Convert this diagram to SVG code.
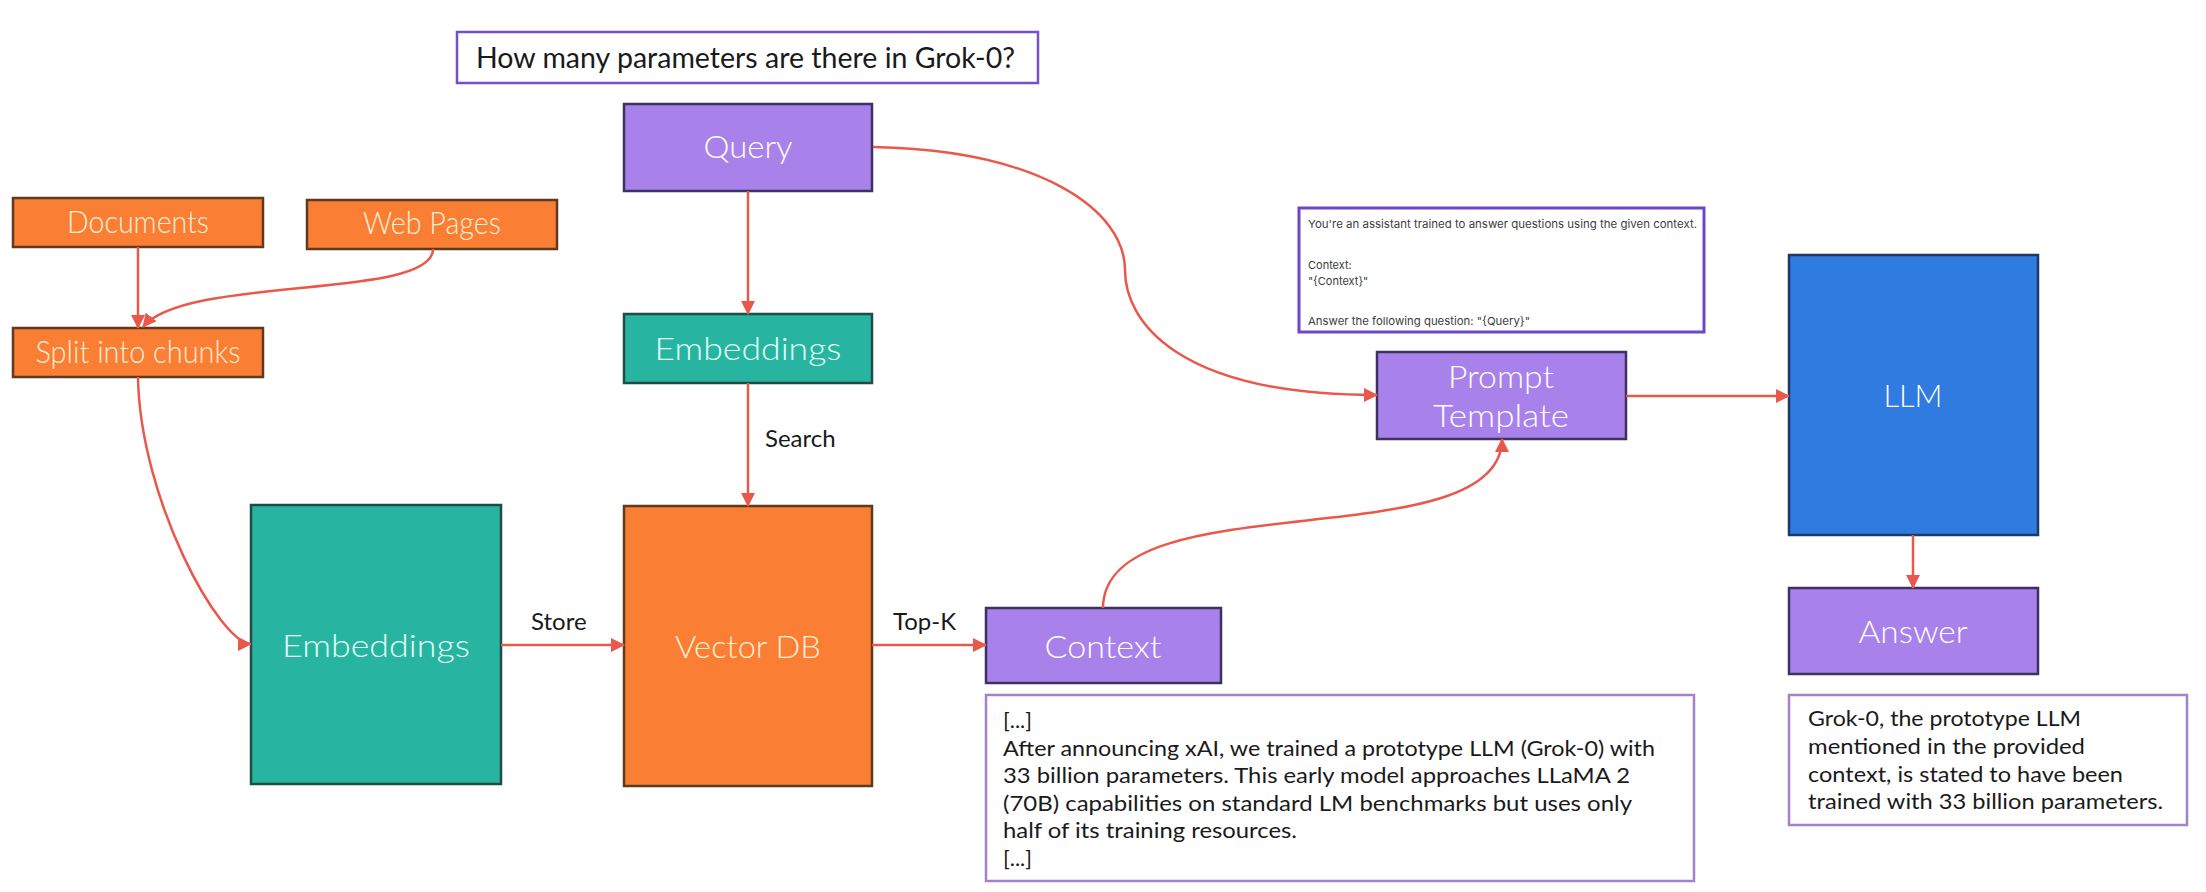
<svg xmlns="http://www.w3.org/2000/svg" width="2206" height="892" viewBox="0 0 2206 892">
<style>
.orange{fill:#FA7E34;stroke:#5E3A1E;stroke-width:2.5}
.teal{fill:#27B5A2;stroke:#1F4D46;stroke-width:2.5}
.purple{fill:#A981EA;stroke:#3D3160;stroke-width:2.5}
.blue{fill:#2F7BE0;stroke:#1D3A66;stroke-width:2.5}
.lbl{font-family:Lato,"Liberation Sans",sans-serif;font-size:31px;font-weight:300;text-anchor:middle}
.lo{fill:#FFEFD6}
.lt{fill:#E4FFF7}
.lp{fill:#FFFFFF}
.edge{fill:none;stroke:#E9594B;stroke-width:2.5}
.txtbox{fill:#FFFFFF;stroke:#A283C9;stroke-width:2.5}
.qbox{fill:#FFFFFF;stroke:#7650CC;stroke-width:2.5}
.body{font-family:Lato,"Liberation Sans",sans-serif;font-size:22px;fill:#1A1A1A}
.elbl{font-family:Lato,"Liberation Sans",sans-serif;font-size:24px;fill:#1A1A1A}
.ptxt{font-family:Inter,"Liberation Sans",sans-serif;font-size:11px;fill:#3C3C3C}
</style>
<defs>
<marker id="arr" markerUnits="userSpaceOnUse" markerWidth="14" markerHeight="14" viewBox="0 0 14 14" refX="13" refY="7" orient="auto">
<path d="M0,0 L14,7 L0,14 z" fill="#E9594B"/>
</marker>
</defs>
<rect width="2206" height="892" fill="#FFFFFF"/>

<g id="question">
<rect class="qbox" x="457" y="32" width="581" height="51"/>
<text x="476" y="68" font-family="Lato,'Liberation Sans',sans-serif" font-size="28" fill="#1A1A1A" textLength="539" lengthAdjust="spacingAndGlyphs">How many parameters are there in Grok-0?</text>
</g>

<g id="documents">
<rect class="orange" x="13" y="198" width="250" height="49"/>
<text class="lbl lo" x="138" y="233" font-size="27" textLength="142" lengthAdjust="spacingAndGlyphs">Documents</text>
</g>
<g id="webpages">
<rect class="orange" x="307" y="200" width="250" height="49"/>
<text class="lbl lo" x="432" y="234" font-size="27" textLength="138" lengthAdjust="spacingAndGlyphs">Web Pages</text>
</g>
<g id="split">
<rect class="orange" x="13" y="328" width="250" height="49"/>
<text class="lbl lo" x="138" y="363" font-size="27" textLength="205" lengthAdjust="spacingAndGlyphs">Split into chunks</text>
</g>

<g id="query">
<rect class="purple" x="624" y="104" width="248" height="87"/>
<text class="lbl lp" x="748" y="158" textLength="89" lengthAdjust="spacingAndGlyphs">Query</text>
</g>
<g id="embeddings-query">
<rect class="teal" x="624" y="314" width="248" height="69"/>
<text class="lbl lt" x="748" y="360" textLength="187" lengthAdjust="spacingAndGlyphs">Embeddings</text>
</g>
<g id="embeddings-docs">
<rect class="teal" x="251" y="505" width="250" height="279"/>
<text class="lbl lt" x="376" y="657" textLength="188" lengthAdjust="spacingAndGlyphs">Embeddings</text>
</g>
<g id="vectordb">
<rect class="orange" x="624" y="506" width="248" height="280"/>
<text class="lbl lo" x="748" y="658" textLength="146" lengthAdjust="spacingAndGlyphs">Vector DB</text>
</g>
<g id="context">
<rect class="purple" x="986" y="608" width="235" height="75"/>
<text class="lbl lp" x="1103" y="658" textLength="117" lengthAdjust="spacingAndGlyphs">Context</text>
</g>
<g id="context-text">
<rect class="txtbox" x="986" y="695" width="708" height="186"/>
<text class="body" x="1003" y="728">[...]</text>
<text class="body" x="1003" y="756" textLength="652" lengthAdjust="spacingAndGlyphs">After announcing xAI, we trained a prototype LLM (Grok-0) with</text>
<text class="body" x="1003" y="783" textLength="627" lengthAdjust="spacingAndGlyphs">33 billion parameters. This early model approaches LLaMA 2</text>
<text class="body" x="1003" y="811" textLength="629" lengthAdjust="spacingAndGlyphs">(70B) capabilities on standard LM benchmarks but uses only</text>
<text class="body" x="1003" y="838" textLength="294" lengthAdjust="spacingAndGlyphs">half of its training resources.</text>
<text class="body" x="1003" y="866">[...]</text>
</g>
<g id="prompt-text">
<rect fill="#FFFFFF" stroke="#6D47C6" stroke-width="3" x="1299" y="208" width="405" height="124"/>
<text class="ptxt" x="1308" y="228" textLength="389" lengthAdjust="spacingAndGlyphs">You're an assistant trained to answer questions using the given context.</text>
<text class="ptxt" x="1308" y="269">Context:</text>
<text class="ptxt" x="1308" y="285">"{Context}"</text>
<text class="ptxt" x="1308" y="325" textLength="222" lengthAdjust="spacingAndGlyphs">Answer the following question: "{Query}"</text>
</g>
<g id="prompt-template">
<rect class="purple" x="1377" y="352" width="249" height="87"/>
<text class="lbl lp" x="1501" y="388" textLength="106" lengthAdjust="spacingAndGlyphs">Prompt</text>
<text class="lbl lp" x="1501" y="427" textLength="136" lengthAdjust="spacingAndGlyphs">Template</text>
</g>
<g id="llm">
<rect class="blue" x="1789" y="255" width="249" height="280"/>
<text class="lbl lp" x="1913" y="407" textLength="59" lengthAdjust="spacingAndGlyphs">LLM</text>
</g>
<g id="answer">
<rect class="purple" x="1789" y="588" width="249" height="86"/>
<text class="lbl lp" x="1913" y="643" textLength="109" lengthAdjust="spacingAndGlyphs">Answer</text>
</g>
<g id="answer-text">
<rect class="txtbox" x="1789" y="695" width="398" height="130"/>
<text class="body" x="1808" y="726" font-size="21" textLength="273" lengthAdjust="spacingAndGlyphs">Grok-0, the prototype LLM</text>
<text class="body" x="1808" y="754" font-size="21" textLength="277" lengthAdjust="spacingAndGlyphs">mentioned in the provided</text>
<text class="body" x="1808" y="782" font-size="21" textLength="315" lengthAdjust="spacingAndGlyphs">context, is stated to have been</text>
<text class="body" x="1808" y="809" font-size="21" textLength="355" lengthAdjust="spacingAndGlyphs">trained with 33 billion parameters.</text>
</g>

<g id="connectors">
<path class="edge" stroke-width="2" d="M138,247 L138,328" marker-end="url(#arr)"/>
<path class="edge" d="M433,249 C433,300 185,275 143,327" marker-end="url(#arr)"/>
<path class="edge" d="M138,377 C140,500 220,644 251,644" marker-end="url(#arr)"/>
<path class="edge" stroke-width="3" d="M501,645 L624,645" marker-end="url(#arr)"/>
<path class="edge" stroke-width="2" d="M748,191 L748,314" marker-end="url(#arr)"/>
<path class="edge" stroke-width="2" d="M748,383 L748,506" marker-end="url(#arr)"/>
<path class="edge" stroke-width="3" d="M872,645 L986,645" marker-end="url(#arr)"/>
<path class="edge" d="M873,147 C1040,150 1125,210 1125,270 C1125,320 1175,395 1377,395" marker-end="url(#arr)"/>
<path class="edge" d="M1103,608 C1103,480 1502,560 1502,439" marker-end="url(#arr)"/>
<path class="edge" stroke-width="3" d="M1626,396 L1789,396" marker-end="url(#arr)"/>
<path class="edge" stroke-width="2" d="M1913,535 L1913,588" marker-end="url(#arr)"/>
<text class="elbl" x="765" y="447">Search</text>
<text class="elbl" x="531" y="630">Store</text>
<text class="elbl" x="893" y="630">Top-K</text>
</g>
</svg>
